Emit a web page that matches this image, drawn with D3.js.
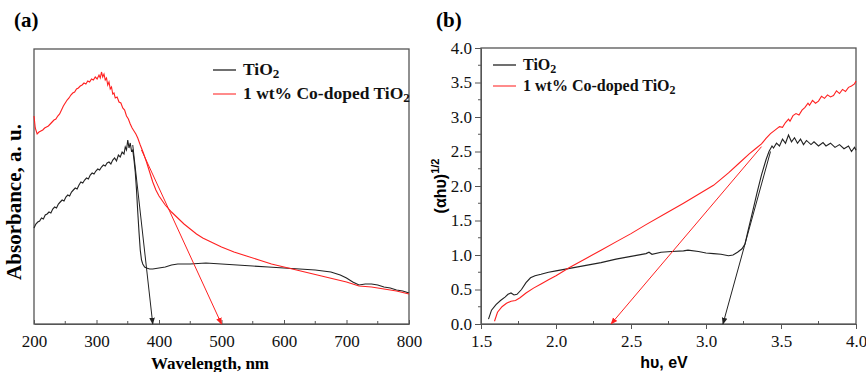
<!DOCTYPE html>
<html>
<head>
<meta charset="utf-8">
<script src="https://cdn.jsdelivr.net/npm/d3@7"></script>
<style>
  body { margin: 0; background: #fff; }
</style>
</head>
<body>
<script>
// ---- panel (a): absorbance vs wavelength (arbitrary units) ----
var wlTicks = [200, 300, 400, 500, 600, 700, 800];

var absTiO2 = [
  [200,0.96],[203,1.00],[206,1.02],[209,1.03],[212,1.06],[215,1.05],[218,1.09],[221,1.10],
  [224,1.12],[227,1.11],[230,1.15],[233,1.17],[236,1.16],[239,1.20],[242,1.22],[245,1.24],
  [248,1.23],[251,1.27],[254,1.29],[257,1.28],[260,1.32],[263,1.34],[266,1.36],[269,1.35],
  [272,1.39],[275,1.42],[278,1.41],[281,1.44],[284,1.46],[287,1.45],[290,1.49],[293,1.51],
  [296,1.50],[299,1.53],[302,1.55],[305,1.54],[308,1.57],[311,1.59],[314,1.58],[317,1.61],
  [320,1.62],[323,1.60],[326,1.64],[329,1.66],[332,1.63],[335,1.69],[338,1.67],[341,1.72],
  [344,1.70],[346,1.77],[348,1.74],[350,1.84],[352,1.76],[354,1.81],[356,1.73],[358,1.74],
  [360,1.64],[362,1.52],[364,1.34],[366,1.12],[368,0.92],[370,0.74],[372,0.64],[374,0.60],
  [377,0.57],[380,0.56],[385,0.55],[390,0.55],[400,0.56],[410,0.57],[420,0.59],[430,0.60],
  [450,0.60],[475,0.61],[500,0.60],[525,0.59],[550,0.58],[575,0.57],[600,0.56],[625,0.55],
  [650,0.54],[675,0.52],[690,0.49],[700,0.46],[710,0.42],[720,0.39],[730,0.40],[740,0.40],
  [750,0.39],[760,0.37],[770,0.36],[780,0.34],[790,0.33],[800,0.31]
];

var absCo = [
  [200,2.08],[202,1.96],[205,1.90],[208,1.92],[211,1.93],[214,1.94],[217,1.96],[220,1.97],
  [223,1.98],[226,2.00],[229,2.02],[232,2.04],[235,2.05],[238,2.08],[241,2.10],[244,2.14],
  [247,2.18],[250,2.21],[253,2.24],[256,2.26],[259,2.29],[262,2.31],[265,2.32],[268,2.35],
  [271,2.36],[274,2.38],[277,2.39],[280,2.41],[283,2.40],[286,2.43],[289,2.42],[292,2.45],
  [295,2.44],[298,2.47],[301,2.45],[304,2.49],[306,2.46],[308,2.52],[310,2.47],[312,2.50],
  [314,2.44],[316,2.46],[318,2.39],[320,2.42],[322,2.35],[324,2.37],[326,2.30],[328,2.31],
  [330,2.26],[333,2.27],[336,2.22],[339,2.21],[342,2.16],[345,2.14],[348,2.08],[351,2.05],
  [354,2.00],[357,1.96],[360,1.93],[363,1.90],[366,1.86],[370,1.79],[375,1.71],[380,1.62],
  [385,1.52],[390,1.42],[395,1.34],[400,1.28],[410,1.19],[420,1.12],[430,1.06],[440,1.00],
  [450,0.95],[460,0.90],[470,0.86],[480,0.83],[490,0.80],[500,0.77],[520,0.72],[540,0.68],
  [560,0.64],[580,0.60],[600,0.57],[620,0.54],[640,0.51],[660,0.48],[680,0.45],[700,0.42],
  [720,0.38],[740,0.37],[760,0.35],[780,0.33],[800,0.30]
];

var tanA_TiO2 = [[358, 1.79], [390, 0]];
var tanA_Co = [[372, 1.74], [500, 0]];

// ---- panel (b): Tauc plot ----
var evTicks = [1.5, 2.0, 2.5, 3.0, 3.5, 4.0];
var taucTicks = [0.0, 0.5, 1.0, 1.5, 2.0, 2.5, 3.0, 3.5, 4.0];

var taucTiO2 = [
  [1.55,0.07],[1.57,0.20],[1.60,0.28],[1.63,0.34],[1.66,0.39],[1.68,0.43],[1.70,0.45],
  [1.72,0.42],[1.74,0.43],[1.77,0.50],[1.80,0.60],[1.83,0.67],[1.86,0.70],[1.90,0.72],
  [1.95,0.75],[2.00,0.77],[2.10,0.81],[2.20,0.85],[2.30,0.89],[2.40,0.94],[2.50,0.98],
  [2.60,1.02],[2.62,1.04],[2.64,1.01],[2.70,1.04],[2.77,1.05],[2.85,1.06],[2.88,1.07],
  [2.95,1.05],[3.00,1.03],[3.05,1.02],[3.10,1.01],[3.15,0.99],[3.18,1.00],[3.21,1.04],
  [3.24,1.09],[3.26,1.16],[3.28,1.35],[3.31,1.62],[3.34,1.90],[3.37,2.16],[3.40,2.38],
  [3.42,2.50],[3.44,2.58],[3.45,2.55],[3.47,2.62],[3.49,2.58],[3.51,2.68],[3.53,2.62],
  [3.55,2.74],[3.57,2.64],[3.59,2.70],[3.61,2.62],[3.63,2.68],[3.65,2.60],[3.67,2.66],
  [3.70,2.60],[3.72,2.64],[3.75,2.58],[3.78,2.63],[3.80,2.58],[3.83,2.62],[3.86,2.56],
  [3.89,2.60],[3.92,2.54],[3.95,2.58],[3.97,2.50],[3.99,2.56],[4.00,2.52]
];

var taucCo = [
  [1.59,0.04],[1.61,0.17],[1.64,0.25],[1.67,0.30],[1.70,0.33],[1.73,0.34],[1.76,0.38],
  [1.80,0.45],[1.85,0.52],[1.90,0.58],[1.95,0.64],[2.00,0.70],[2.09,0.82],[2.20,0.95],
  [2.30,1.07],[2.40,1.19],[2.50,1.31],[2.60,1.44],[2.73,1.60],[2.85,1.75],[2.95,1.88],
  [3.05,2.01],[3.15,2.19],[3.22,2.33],[3.29,2.47],[3.33,2.54],[3.37,2.61],[3.40,2.69],
  [3.43,2.76],[3.46,2.81],[3.49,2.86],[3.51,2.85],[3.53,2.92],[3.55,2.97],[3.56,2.94],
  [3.58,3.02],[3.60,3.05],[3.62,3.03],[3.64,3.10],[3.66,3.14],[3.68,3.20],[3.69,3.17],
  [3.71,3.24],[3.73,3.20],[3.75,3.23],[3.77,3.30],[3.79,3.27],[3.81,3.32],[3.83,3.29],
  [3.85,3.31],[3.87,3.38],[3.89,3.34],[3.91,3.40],[3.93,3.37],[3.95,3.43],[3.97,3.45],
  [3.99,3.48],[4.00,3.52]
];

var tanB_TiO2 = [[3.43, 2.50], [3.113, 0]];
var tanB_Co = [[3.37, 2.57], [2.367, 0]];

var legendNames = ["TiO", "1 wt% Co-doped TiO"];
var colors = ["#222", "#ff2020"];

var serif = "Liberation Serif, Times New Roman, serif";
var sans = "Liberation Sans, Arial, sans-serif";

var W = 866, H = 372;
var svg = d3.select("body").append("svg")
    .attr("width", W).attr("height", H)
    .attr("font-family", serif);
svg.append("rect").attr("width", W).attr("height", H).attr("fill", "#fff");

var defs = svg.append("defs");
colors.forEach(function(c, i) {
  defs.append("marker")
      .attr("id", "arr" + i)
      .attr("viewBox", "0 0 10 10")
      .attr("refX", 9).attr("refY", 5)
      .attr("markerWidth", 7).attr("markerHeight", 7)
      .attr("orient", "auto")
    .append("path")
      .attr("d", "M0,1 L10,5 L0,9 Z")
      .attr("fill", c);
});

var line = function(x, y) {
  return d3.line().x(d => x(d[0])).y(d => y(d[1]));
};

function frame(g, left, top, right, bottom) {
  g.append("rect")
      .attr("x", left).attr("y", top)
      .attr("width", right - left).attr("height", bottom - top)
      .attr("fill", "none").attr("stroke", "#555").attr("stroke-width", 1.3);
}

function legend(g, x0, y0, dy, fs) {
  legendNames.forEach(function(n, i) {
    var y = y0 + i * dy;
    g.append("line")
        .attr("x1", x0).attr("x2", x0 + 23)
        .attr("y1", y).attr("y2", y)
        .attr("stroke", i ? "#ff5a5a" : "#333").attr("stroke-width", 1.4);
    var t = g.append("text")
        .attr("x", x0 + 30).attr("y", y + 5)
        .attr("font-size", fs).attr("font-weight", "bold")
        .attr("fill", "#111");
    t.append("tspan").text(n);
    t.append("tspan").attr("font-size", fs * 0.75).attr("dy", 3).text("2");
  });
}

function styleAxis(a) {
  a.attr("font-family", serif);
  a.select(".domain").attr("stroke", "#555");
  a.selectAll(".tick line").attr("stroke", "#555");
  a.selectAll("text").attr("font-size", 17).attr("fill", "#111");
}

// ===== panel (a) =====
var ga = svg.append("g");
var xa = d3.scaleLinear().domain([200, 800]).range([34, 409]);
var ya = d3.scaleLinear().domain([0, 2.75]).range([324, 49]);

frame(ga, 34, 49, 409, 324);

var xAxisA = d3.axisBottom(xa).tickValues(wlTicks).tickFormat(d3.format("d"))
    .tickSizeInner(-4).tickSizeOuter(0).tickPadding(11);
var axA = ga.append("g").attr("transform", "translate(0,324)").call(xAxisA);
styleAxis(axA);
ga.append("g").selectAll("line")
    .data(d3.range(250, 800, 100))
  .enter().append("line")
    .attr("x1", d => xa(d)).attr("x2", d => xa(d))
    .attr("y1", 324).attr("y2", 321)
    .attr("stroke", "#555");

ga.append("path").datum(absTiO2)
    .attr("d", line(xa, ya)).attr("fill", "none")
    .attr("stroke", colors[0]).attr("stroke-width", 1.1);
ga.append("path").datum(absCo)
    .attr("d", line(xa, ya)).attr("fill", "none")
    .attr("stroke", colors[1]).attr("stroke-width", 1.1);
ga.append("path").datum(tanA_TiO2)
    .attr("d", line(xa, ya)).attr("fill", "none")
    .attr("stroke", colors[0]).attr("stroke-width", 1)
    .attr("marker-end", "url(#arr0)");
ga.append("path").datum(tanA_Co)
    .attr("d", line(xa, ya)).attr("fill", "none")
    .attr("stroke", colors[1]).attr("stroke-width", 1)
    .attr("marker-end", "url(#arr1)");

legend(ga, 213, 70, 24, 17.5);

ga.append("text").attr("x", 210).attr("y", 369)
    .attr("text-anchor", "middle").attr("font-size", 17).attr("font-weight", "bold")
    .text("Wavelength, nm");
ga.append("text")
    .attr("transform", "translate(21,202) rotate(-90)")
    .attr("text-anchor", "middle").attr("font-size", 21).attr("font-weight", "bold")
    .text("Absorbance, a. u.");
ga.append("text").attr("x", 14).attr("y", 27)
    .attr("font-size", 21).attr("font-weight", "bold").text("(a)");

// ===== panel (b) =====
var gb = svg.append("g");
var xb = d3.scaleLinear().domain([1.5, 4.0]).range([481, 856]);
var yb = d3.scaleLinear().domain([0, 4.0]).range([324, 48]);

frame(gb, 481, 48, 856, 324);

var xAxisB = d3.axisBottom(xb).tickValues(evTicks).tickFormat(d3.format(".1f"))
    .tickSizeInner(5).tickSizeOuter(0).tickPadding(6);
var axB = gb.append("g").attr("transform", "translate(0,324)").call(xAxisB);
var yAxisB = d3.axisLeft(yb).tickValues(taucTicks).tickFormat(d3.format(".1f"))
    .tickSizeInner(6).tickSizeOuter(0).tickPadding(3);
var ayB = gb.append("g").attr("transform", "translate(481,0)").call(yAxisB);
styleAxis(axB);
styleAxis(ayB);
gb.append("g").selectAll("line")
    .data(d3.range(1.75, 4.0, 0.5))
  .enter().append("line")
    .attr("x1", d => xb(d)).attr("x2", d => xb(d))
    .attr("y1", 324).attr("y2", 321)
    .attr("stroke", "#555");
gb.append("g").selectAll("line")
    .data(d3.range(0.25, 4.0, 0.5))
  .enter().append("line")
    .attr("x1", 478).attr("x2", 481)
    .attr("y1", d => yb(d)).attr("y2", d => yb(d))
    .attr("stroke", "#555");

gb.append("path").datum(taucTiO2)
    .attr("d", line(xb, yb)).attr("fill", "none")
    .attr("stroke", colors[0]).attr("stroke-width", 1.1);
gb.append("path").datum(taucCo)
    .attr("d", line(xb, yb)).attr("fill", "none")
    .attr("stroke", colors[1]).attr("stroke-width", 1.1);
gb.append("path").datum(tanB_TiO2)
    .attr("d", line(xb, yb)).attr("fill", "none")
    .attr("stroke", colors[0]).attr("stroke-width", 1)
    .attr("marker-end", "url(#arr0)");
gb.append("path").datum(tanB_Co)
    .attr("d", line(xb, yb)).attr("fill", "none")
    .attr("stroke", colors[1]).attr("stroke-width", 1)
    .attr("marker-end", "url(#arr1)");

legend(gb, 493, 65, 21, 16);

gb.append("text").attr("x", 664).attr("y", 368)
    .attr("text-anchor", "middle").attr("font-size", 16).attr("font-weight", "bold")
    .attr("font-family", sans)
    .text("h\u03c5, eV");
var yl = gb.append("text")
    .attr("transform", "translate(446,186) rotate(-90)")
    .attr("text-anchor", "middle").attr("font-size", 16).attr("font-weight", "bold")
    .attr("font-family", sans);
yl.append("tspan").text("(\u03b1h\u03c5)");
yl.append("tspan").attr("font-size", 11).attr("dy", -7).text("1/2");
gb.append("text").attr("x", 436).attr("y", 27)
    .attr("font-size", 21).attr("font-weight", "bold").text("(b)");
</script>
</body>
</html>
